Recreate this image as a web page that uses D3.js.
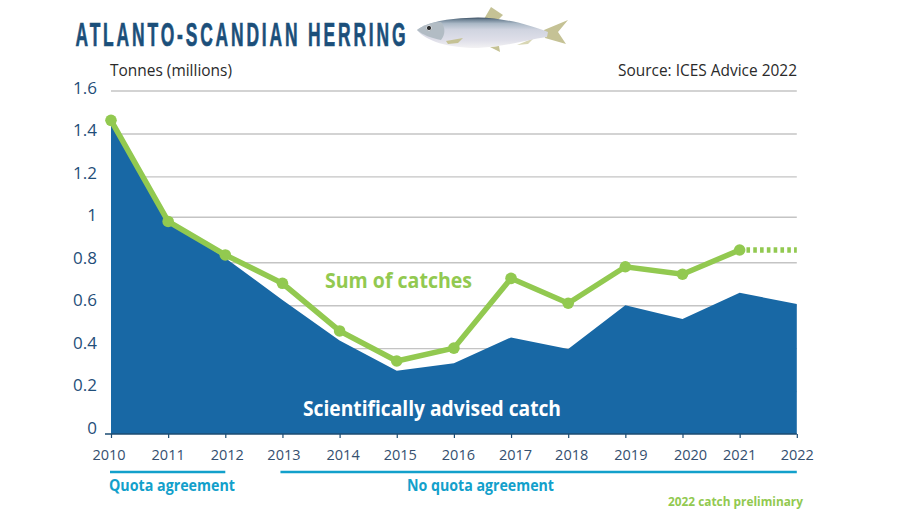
<!DOCTYPE html>
<html><head><meta charset="utf-8">
<script src="https://cdnjs.cloudflare.com/ajax/libs/d3/7.8.5/d3.min.js"></script>
<style>html,body{margin:0;padding:0;background:#fff}svg{display:block}</style>
</head><body><svg id="c" width="912" height="513"></svg>
<script>
const years=[2010,2011,2012,2013,2014,2015,2016,2017,2018,2019,2020,2021,2022];
const catches=[1.461,0.99,0.834,0.702,0.48,0.34,0.40,0.725,0.609,0.779,0.744,0.857];
const preliminary=[0.857,0.857];
const advised=[1.461,0.99,0.82,0.624,0.435,0.295,0.329,0.45,0.396,0.60,0.536,0.658,0.605];
const yTicks=[0,0.2,0.4,0.6,0.8,1,1.2,1.4,1.6];

const svg=d3.select("#c");
const font="'Open Sans','Noto Sans',sans-serif";
const x=d3.scaleLinear().domain([2010,2022]).range([111,796.8]);
const y=d3.scaleLinear().domain([0,1.6]).range([434,90.5]);
const yLabel=d3.scaleLinear().domain([0,1.6]).range([428,88]);
const yearNudge=new Map([[2010,-2.5],[2011,-.5],[2012,1.5],[2013,1],[2014,3],[2015,3],[2016,4],[2017,4],[2018,3],[2019,5],[2020,7.5],[2021,-.5]]);

// grid (the 1.0 rule sits a little high in the source artwork)
svg.append("g").attr("transform","translate(111,0)")
  .call(d3.axisLeft(y).tickValues(yTicks.slice(1)).tickSize(-(796.8-111)).tickFormat(""))
  .call(g=>g.select(".domain").remove())
  .call(g=>g.selectAll(".tick").filter(d=>d===1).select("line").attr("transform","translate(0,-2.5)"))
  .call(g=>g.selectAll("line").attr("stroke","#c4c4c4").attr("stroke-width",1.4));

// advised area
svg.append("path").datum(advised)
  .attr("d",d3.area().x((d,i)=>x(years[i])).y0(y(0)).y1(d=>y(d)))
  .attr("fill","#1868a5");

// x axis
const xAxis=svg.append("g").attr("transform",`translate(0,${y(0)})`)
  .call(d3.axisBottom(x).tickValues(years).tickFormat(d3.format("d")).tickSize(4));
xAxis.select(".domain").attr("d",`M${x(2010)-6},0H${x(2022)}`).attr("stroke","#1b4b72").attr("stroke-width",1.5);
xAxis.selectAll("line").attr("stroke","#1b4b72").attr("stroke-width",1.2);
xAxis.selectAll("text").attr("y",16).attr("dy","0.71em").attr("dx",d=>yearNudge.get(d)||0)
  .attr("font-family",font).attr("font-size",14.5).attr("fill","#35506f");

// y labels
svg.append("g").selectAll("text").data(yTicks).join("text")
  .attr("x",97).attr("text-anchor","end").attr("y",d=>yLabel(d)).attr("dy","0.35em")
  .attr("font-family",font).attr("font-size",17).attr("fill","#1f4e79").text(d=>d);

// catches
const line=d3.line().x((d,i)=>x(years[i])).y(d=>y(d));
svg.append("path").datum(catches).attr("d",line).attr("fill","none").attr("stroke","#92c950").attr("stroke-width",5.5);
svg.append("path").datum(preliminary).attr("d",d3.line().x((d,i)=>x(years[11+i])).y(d=>y(d)))
  .attr("fill","none").attr("stroke","#92c950").attr("stroke-width",5.5).attr("stroke-dasharray","3.6 3.2");
svg.append("g").selectAll("circle").data(catches).join("circle")
  .attr("cx",(d,i)=>x(years[i])).attr("cy",d=>y(d)).attr("r",5.8).attr("fill","#92c950");

// text
const T=(s,px,py,size,fill,weight,anchor,len)=>{
  const t=svg.append("text").attr("x",px).attr("y",py).attr("font-size",size)
    .attr("font-family",font).attr("fill",fill).attr("font-weight",weight||400).attr("text-anchor",anchor||"start").text(s);
  if(len) t.attr("textLength",len).attr("lengthAdjust","spacingAndGlyphs");
  return t;
};
T("Tonnes (millions)",110,76,15.6,"#2a2a2a",400,"start",122);
T("Source: ICES Advice 2022",797,76,15.6,"#2a2a2a",400,"end",179);
T("Sum of catches",325,288,21.5,"#92c950",700,"start",147);
T("Scientifically advised catch",303,416,20.5,"#ffffff",700,"start",258);
T("Quota agreement",109,491,15.3,"#12a0cb",700,"start",126);
T("No quota agreement",407,491,15.3,"#12a0cb",700,"start",147);
T("2022 catch preliminary",668,506,12.3,"#92c950",700,"start",135);

// agreement bars
svg.append("line").attr("x1",x(2010)-1).attr("x2",x(2012)).attr("y1",472).attr("y2",472).attr("stroke","#12a0cb").attr("stroke-width",2.3);
svg.append("line").attr("x1",x(2013)-2).attr("x2",x(2022)).attr("y1",472).attr("y2",472).attr("stroke","#12a0cb").attr("stroke-width",2.3);

// title
svg.append("text").attr("transform","translate(75.5,46) scale(0.52,1)")
  .attr("font-family","'Liberation Sans Narrow','Liberation Sans',sans-serif")
  .attr("font-size",33.5).attr("font-weight",700).attr("fill","#1b4f7a")
  .attr("stroke","#1b4f7a").attr("stroke-width",0.7)
  .attr("textLength",330/0.52).attr("lengthAdjust","spacing").text("ATLANTO-SCANDIAN HERRING");

// fish illustration
const defs=svg.append("defs");
const g=defs.append("linearGradient").attr("id","fb").attr("x1",0).attr("y1",0).attr("x2",0).attr("y2",1);
[[0,"#3a4d60"],[0.07,"#6d8294"],[0.2,"#aab8c6"],[0.4,"#d0d4e0"],[0.75,"#dfdfe9"],[1,"#f3f2f4"]].forEach(s=>g.append("stop").attr("offset",s[0]).attr("stop-color",s[1]));
const f=svg.append("g");
const finC="#c5c295";
f.append("path").attr("d","M484 19L491 7L503 15L498 20Z").attr("fill",finC);
f.append("path").attr("d","M544 30L568 20L558 32L566 44L545 38Z").attr("fill",finC);
f.append("path").attr("d","M517 45L534 38L528 44Z").attr("fill","#d8d6b4");
f.append("path").attr("d","M490 47L500 52L499 46Z").attr("fill",finC);
f.append("path").attr("d","M417 30C426 23 445 18 478 17.5C505 18 530 25 548 32L547 37C525 40 505 47 478 48C448 48 426 41 417 30Z").attr("fill","url(#fb)");
f.append("path").attr("d","M446 41L463 38L458 43L448 44Z").attr("fill",finC);
f.append("path").attr("d","M417 30C423 25 433 22 441 22C446 28 445 35 441 40C431 38 423 35 417 30Z").attr("fill","#b2bcc4");
f.append("circle").attr("cx",429).attr("cy",28).attr("r",2.6).attr("fill","#2a2a2a").attr("stroke","#d4d9de").attr("stroke-width",1);
</script></body></html>
